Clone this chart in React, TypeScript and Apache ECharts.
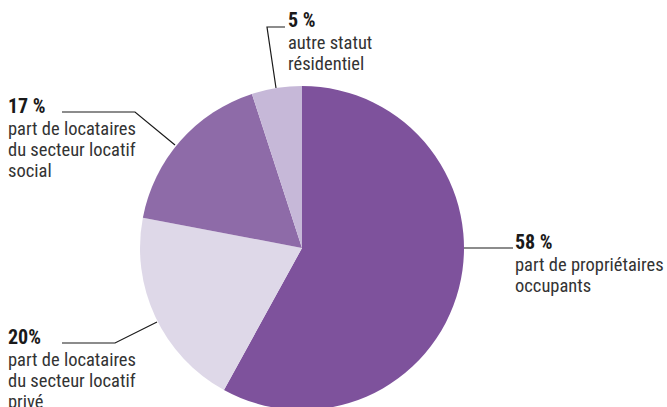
import React, { useEffect, useRef } from "react";
import * as echarts from "echarts";

const categories = [
  "part de propriétaires\noccupants",
  "part de locataires\ndu secteur locatif\nprivé",
  "part de locataires\ndu secteur locatif\nsocial",
  "autre statut\nrésidentiel",
];
const values = [58, 20, 17, 5];
const valueLabels = ["58 %", "20%", "17 %", "5 %"];
const colors = ["#7e529c", "#ded8e8", "#8e6ba8", "#c6b8d8"];

// label layout: [labelLeft, labelTop, leader line points]
const labelBoxes: [number, number, number[][]][] = [
  [515, 230, [[463, 248], [490, 248], [513, 248]]],
  [8, 325, [[157, 322], [115, 343], [62, 343]]],
  [8, 94, [[175, 145], [135, 112], [62, 112]]],
  [288, 8, [[276, 88], [267, 27], [285, 27]]],
];

const FONT = '"Liberation Sans Narrow", "Roboto Condensed", "DejaVu Sans Condensed", sans-serif';

export default function App() {
  const ref = useRef<HTMLDivElement>(null);
  useEffect(() => {
    document.body.style.margin = "0";
    const chart = echarts.init(ref.current!, undefined, { renderer: "svg" });
    chart.setOption({
      animation: false,
      backgroundColor: "#ffffff",
      series: [
        {
          type: "pie",
          center: [302, 248],
          radius: 162,
          startAngle: 90,
          clockwise: true,
          silent: true,
          data: values.map((v, i) => ({
            value: v,
            name: categories[i],
            itemStyle: { color: colors[i] },
            label: {
              formatter: () =>
                `{b|${valueLabels[i]}}\n` +
                categories[i]
                  .split("\n")
                  .map((l) => `{n|${l}}`)
                  .join("\n"),
            },
          })),
          label: {
            show: true,
            position: "outside",
            alignTo: "none",
            overflow: "none",
            fontFamily: FONT,
            rich: {
              b: {
                fontFamily: FONT,
                fontWeight: "bold",
                fontSize: 20,
                lineHeight: 24,
                color: "#1a1a1a",
              },
              n: {
                fontFamily: FONT,
                fontSize: 18.5,
                lineHeight: 21,
                color: "#333333",
              },
            },
          },
          labelLine: {
            show: true,
            lineStyle: { color: "#1a1a1a", width: 1.2 },
          },
          labelLayout: (params: any) => {
            const lb = labelBoxes[params.dataIndex];
            return {
              x: lb[0],
              y: lb[1],
              align: "left",
              verticalAlign: "top",
              labelLinePoints: lb[2],
            };
          },
        },
      ],
    });
    return () => chart.dispose();
  }, []);
  return (
    <div
      ref={ref}
      style={{ position: "fixed", left: 0, top: 0, width: 667, height: 407 }}
    />
  );
}
